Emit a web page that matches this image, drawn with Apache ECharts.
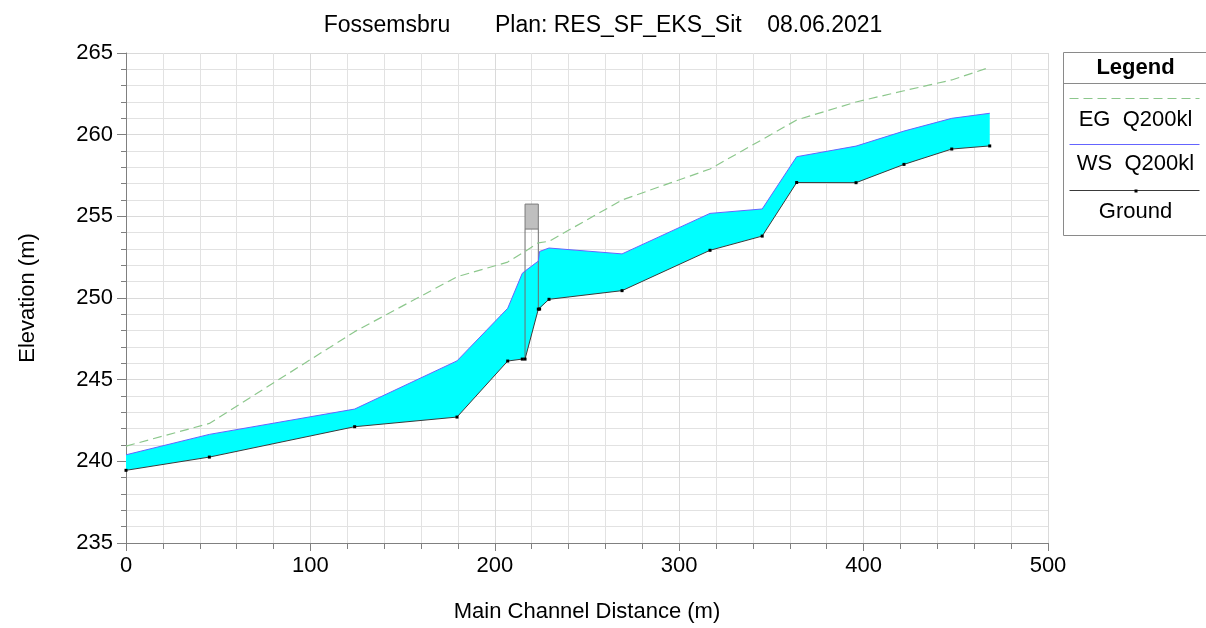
<!DOCTYPE html>
<html lang="en">
<head>
<meta charset="utf-8">
<title>Fossemsbru profile</title>
<script src="https://cdn.jsdelivr.net/npm/echarts@6/dist/echarts.min.js"></script>
<style>
  html, body { margin: 0; padding: 0; background: #fff; }
  #chart1 { width: 1206px; height: 628px; }
</style>
</head>
<body>
<div id="chart1"></div>
<script type="text/javascript">
// main channel stations (m) and elevations (m)
var stations = [0, 45.2, 124.0, 179.5, 207.0, 214.9, 216.4, 223.6, 224.3, 229.4, 269.0, 316.7, 345.0, 363.7, 395.9, 421.9, 447.8, 468.4];
var ground   = [239.45, 240.26, 242.12, 242.71, 246.14, 246.26, 246.26, 249.32, 249.32, 249.92, 250.45, 252.92, 253.79, 257.07, 257.06, 258.18, 259.12, 259.31];
var wsQ200   = [240.40, 241.65, 243.20, 246.15, 249.37, 251.51, 251.65, 252.26, 252.85, 253.06, 252.70, 255.18, 255.45, 258.65, 259.30, 260.22, 261.00, 261.31];
var egQ200   = [240.93, 242.32, 247.94, 251.30, 252.20, 252.75, 252.85, 253.38, 253.42, 253.47, 256.00, 257.90, 259.70, 260.90, 262.00, 262.69, 263.35, 264.12];

// bridge deck (station left/right, low chord, high chord)
var bridgeStations = [216.4, 223.6];
var bridgeChord = [254.22, 255.75];
var bridgeGround = [246.26, 249.32];

var FONT = 'Arial, "Liberation Sans", sans-serif';

function pairs(xs, ys) {
    var out = [];
    for (var i = 0; i < xs.length; i++) out.push([xs[i], ys[i]]);
    return out;
}

var myChart = echarts.init(document.getElementById("chart1"));

myChart.setOption({
    animation: false,
    backgroundColor: '#fff',
    title: {
        text: 'Fossemsbru       Plan: RES_SF_EKS_Sit    08.06.2021',
        left: 'center',
        top: 9,
        textStyle: { fontSize: 23, fontWeight: 'normal', color: '#000', fontFamily: FONT }
    },
    grid: { left: 126, right: 158, top: 53, bottom: 85 },
    xAxis: {
        type: 'value',
        min: 0, max: 500, interval: 100,
        name: 'Main Channel Distance (m)',
        nameLocation: 'middle',
        nameGap: 58,
        nameTextStyle: { fontSize: 22, color: '#000', fontFamily: FONT },
        axisLine: { show: true, lineStyle: { color: '#808080' } },
        axisTick: { show: true, length: 8, lineStyle: { color: '#808080' } },
        minorTick: { show: true, splitNumber: 5, length: 6, lineStyle: { color: '#808080' } },
        axisLabel: { fontSize: 22, color: '#000', margin: 12, fontFamily: FONT },
        splitLine: { show: true, lineStyle: { color: '#dadada' } },
        minorSplitLine: { show: true, lineStyle: { color: '#e2e2e2' } }
    },
    yAxis: {
        type: 'value',
        min: 235, max: 265, interval: 5,
        name: 'Elevation (m)',
        nameLocation: 'middle',
        nameGap: 87,
        nameTextStyle: { fontSize: 22, color: '#000', fontFamily: FONT },
        axisLine: { show: true, lineStyle: { color: '#808080' } },
        axisTick: { show: true, length: 9, lineStyle: { color: '#808080' } },
        minorTick: { show: true, splitNumber: 5, length: 5, lineStyle: { color: '#808080' } },
        axisLabel: { fontSize: 22, color: '#000', margin: 13, fontFamily: FONT },
        splitLine: { show: true, lineStyle: { color: '#dadada' } },
        minorSplitLine: { show: true, lineStyle: { color: '#e2e2e2' } }
    },
    series: [
        {
            // water body between ground and water surface
            name: 'fill',
            type: 'custom',
            z: 1,
            data: [[stations[0], ground[0]]],
            renderItem: function (params, api) {
                var pts = [];
                for (var i = 0; i < stations.length; i++) pts.push(api.coord([stations[i], wsQ200[i]]));
                for (var j = stations.length - 1; j >= 0; j--) pts.push(api.coord([stations[j], ground[j]]));
                return {
                    type: 'polygon',
                    shape: { points: pts },
                    style: { fill: '#00ffff', stroke: null }
                };
            }
        },
        {
            name: 'bridge',
            type: 'custom',
            z: 2,
            data: [[bridgeStations[0], bridgeChord[0]]],
            renderItem: function (params, api) {
                var a = api.coord([bridgeStations[0], bridgeChord[1]]);
                var b = api.coord([bridgeStations[1], bridgeChord[0]]);
                var children = [{
                    type: 'rect',
                    shape: { x: a[0], y: a[1], width: b[0] - a[0], height: b[1] - a[1] },
                    style: { fill: '#bfbfbf', stroke: '#7a7a7a', lineWidth: 1 }
                }];
                for (var k = 0; k < bridgeStations.length; k++) {
                    var top = api.coord([bridgeStations[k], bridgeChord[0]]);
                    var bot = api.coord([bridgeStations[k], bridgeGround[k]]);
                    children.push({
                        type: 'line',
                        shape: { x1: top[0], y1: top[1], x2: bot[0], y2: bot[1] },
                        style: { stroke: '#6e6e6e', lineWidth: 1 }
                    });
                }
                return { type: 'group', children: children };
            }
        },
        {
            name: 'EG  Q200kl',
            type: 'line',
            z: 3,
            data: pairs(stations, egQ200),
            symbol: 'none',
            lineStyle: { color: '#8cc78c', width: 1.2, type: [9, 5] }
        },
        {
            name: 'WS  Q200kl',
            type: 'line',
            z: 4,
            data: pairs(stations, wsQ200),
            symbol: 'none',
            lineStyle: { color: '#6464ff', width: 1 }
        },
        {
            name: 'Ground',
            type: 'line',
            z: 5,
            data: pairs(stations, ground),
            symbol: 'rect',
            symbolSize: 3,
            itemStyle: { color: '#000' },
            lineStyle: { color: '#3a3a3a', width: 1 }
        }
    ],
    graphic: [
        {
            type: 'group',
            left: 1061,
            top: 52,
            children: [
                { type: 'rect', shape: { x: 0, y: 0, width: 145, height: 183 },
                  style: { fill: '#fff', stroke: '#8a8a8a', lineWidth: 1 } },
                { type: 'text', x: 72, y: 15, style: { text: 'Legend', font: 'bold 22px ' + FONT, fill: '#000', align: 'center', verticalAlign: 'middle' } },
                { type: 'line', shape: { x1: 0, y1: 31, x2: 145, y2: 31 }, style: { stroke: '#8a8a8a', lineWidth: 1 } },
                { type: 'line', shape: { x1: 6, y1: 46, x2: 136, y2: 46 }, style: { stroke: '#8cc78c', lineWidth: 1.2, lineDash: [9, 5] } },
                { type: 'text', x: 72, y: 67, style: { text: 'EG  Q200kl', font: '22px ' + FONT, fill: '#000', align: 'center', verticalAlign: 'middle' } },
                { type: 'line', shape: { x1: 6, y1: 92, x2: 136, y2: 92 }, style: { stroke: '#6464ff', lineWidth: 1 } },
                { type: 'text', x: 72, y: 111, style: { text: 'WS  Q200kl', font: '22px ' + FONT, fill: '#000', align: 'center', verticalAlign: 'middle' } },
                { type: 'line', shape: { x1: 6, y1: 138, x2: 136, y2: 138 }, style: { stroke: '#3a3a3a', lineWidth: 1 } },
                { type: 'rect', shape: { x: 71, y: 137, width: 3, height: 3 }, style: { fill: '#000' } },
                { type: 'text', x: 72, y: 159, style: { text: 'Ground', font: '22px ' + FONT, fill: '#000', align: 'center', verticalAlign: 'middle' } }
            ]
        }
    ]
});
</script>
</body>
</html>
